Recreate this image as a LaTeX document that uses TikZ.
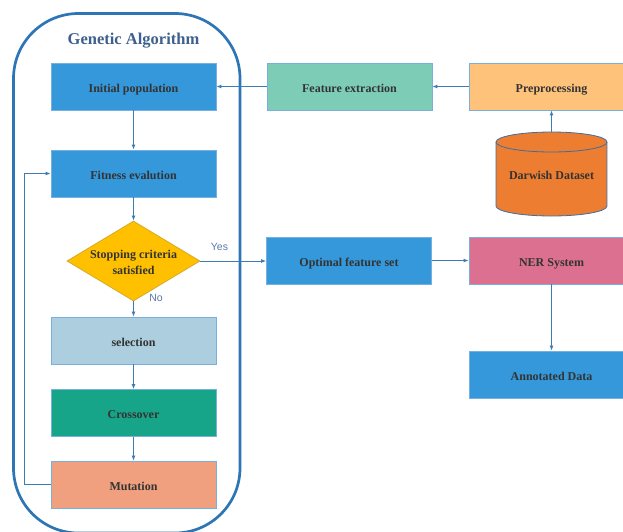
\documentclass[tikz,border=0pt]{standalone}
\usepackage{fontspec}
\setmainfont{Liberation Serif}
\newfontfamily\lsans{Liberation Sans}
\usetikzlibrary{arrows.meta,shapes.geometric}
\definecolor{contc}{RGB}{46,117,182}
\definecolor{titc}{RGB}{62,96,140}
\definecolor{txtc}{RGB}{51,51,51}
\definecolor{edgec}{RGB}{62,124,177}
\definecolor{bordc}{RGB}{120,175,225}
\definecolor{bluebox}{RGB}{52,152,219}
\definecolor{selc}{RGB}{172,206,222}
\definecolor{croc}{RGB}{23,165,137}
\definecolor{mutc}{RGB}{240,160,126}
\definecolor{fec}{RGB}{125,205,182}
\definecolor{prec}{RGB}{255,194,122}
\definecolor{nerc}{RGB}{220,112,144}
\definecolor{cylc}{RGB}{237,125,49}
\definecolor{cyle}{RGB}{60,110,160}
\definecolor{diac}{RGB}{255,192,0}
\definecolor{diae}{RGB}{214,170,40}
\definecolor{labc}{RGB}{90,120,170}
\begin{document}
\begin{tikzpicture}[x=1pt,y=-1pt,
  box/.style={rectangle, draw=bordc, line width=0.8pt, minimum width=165pt, minimum height=47pt, inner sep=0pt,
    text height=11pt, text depth=0pt,
    font=\bfseries\fontsize{12}{14}\selectfont, text=txtc},
  arr/.style={draw=edgec, line width=0.9pt, -{Latex[length=5pt,width=4pt]}},
  lab/.style={font=\lsans\fontsize{10.5}{12}\selectfont, text=labc, inner sep=0pt}]
\useasboundingbox (0,0) rectangle (623,531);
\clip (0,0) rectangle (623,531);
% container
\draw[contc, line width=2.7pt, rounded corners=65pt] (13.5,13.5) rectangle (240,533);
\node[font=\bfseries\fontsize{16.5}{18}\selectfont, text=titc] (title) at (133.5,41) {Genetic Algorithm};
% left column
\node[box, fill=bluebox] (init) at (133.5,86.5) {Initial population};
\node[box, fill=bluebox] (fit) at (133.5,173.5) {Fitness evalution};
\node[diamond, draw=diae, line width=0.8pt, fill=diac, minimum width=133pt, minimum height=80pt, inner sep=0pt] (dia) at (133.5,261) {};
\node[font=\bfseries\fontsize{12}{16}\selectfont, text=txtc, align=center] (diat) at (133.5,262) {Stopping criteria\\satisfied};
\node[box, fill=selc] (sel) at (133.5,340.5) {selection};
\node[box, fill=croc] (cro) at (133.5,413) {Crossover};
\node[box, fill=mutc] (mut) at (133.5,484.5) {Mutation};
% right part
\node[box, fill=fec] (fe) at (349.5,86.5) {Feature extraction};
\node[box, fill=prec] (pre) at (551.5,86.5) {Preprocessing};
\node[box, fill=bluebox] (opt) at (349,260.5) {Optimal feature set};
\node[box, fill=nerc] (ner) at (551.5,260.5) {NER System};
\node[box, fill=bluebox] (ann) at (551.5,374.5) {Annotated Data};
% cylinder
\fill[cylc] (496,142) rectangle (607,206);
\fill[cylc] (551.5,206) ellipse [x radius=55.5, y radius=10];
\draw[cyle, line width=0.8pt] (496,142) -- (496,206) arc[start angle=180, end angle=0, x radius=55.5, y radius=10] -- (607,142);
\filldraw[fill=cylc, draw=cyle, line width=0.8pt] (551.5,142) ellipse [x radius=55.5, y radius=10];
\node[minimum width=111pt, minimum height=84pt, inner sep=0pt, text height=11pt, text depth=0pt, font=\bfseries\fontsize{12}{14}\selectfont, text=txtc] (dd) at (551.5,174) {Darwish Dataset};
% edges
\draw[arr] (init) -- (fit);
\draw[arr] (fit) -- (dia);
\draw[arr] (dia) -- (sel);
\draw[arr] (sel) -- (cro);
\draw[arr] (cro) -- (mut);
\draw[arr] (mut.west) -- ++(-26,0) |- (fit.west);
\draw[arr] (dd.north) -- (pre.south);
\draw[arr] (pre) -- (fe);
\draw[arr] (fe) -- (init);
\draw[arr] (dia.east) -- (dia.east -| opt.west);
\draw[arr] (opt) -- (ner);
\draw[arr] (ner) -- (ann);
\node[lab] (yes) at (219.5,246.5) {Yes};
\node[lab] (no) at (156,298) {No};
\end{tikzpicture}
\end{document}
